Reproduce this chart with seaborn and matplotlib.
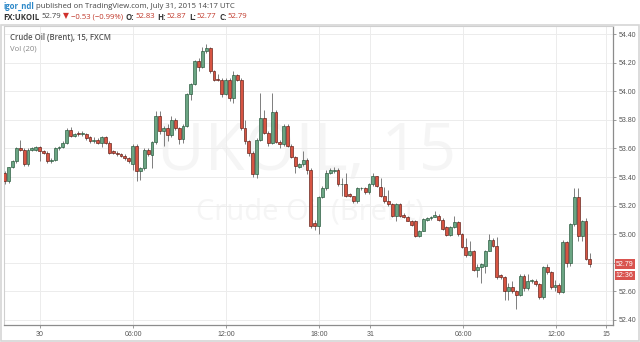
import numpy as np
import pandas as pd
import matplotlib
matplotlib.use("Agg")
import matplotlib.pyplot as plt
import matplotlib.transforms as mtransforms
from matplotlib.patches import Rectangle
import seaborn as sns

# ---------------- data (15-min candles, FX:UKOIL) ----------------
opens = [53.43, 53.37, 53.47, 53.51, 53.60, 53.59, 53.49, 53.59, 53.59, 53.61,
         53.58, 53.57, 53.51, 53.52, 53.60, 53.61, 53.64, 53.73, 53.69, 53.71,
         53.70, 53.70, 53.68, 53.655, 53.66, 53.64, 53.68, 53.64, 53.58, 53.57,
         53.56, 53.55, 53.53, 53.49, 53.62, 53.445, 53.465, 53.59, 53.556, 53.645,
         53.825, 53.72, 53.74, 53.695, 53.80, 53.74, 53.665, 53.757, 53.979, 54.05,
         54.213, 54.17, 54.28, 54.30, 54.14, 54.085, 54.08, 53.98, 54.08, 53.95,
         54.11, 54.08, 53.74, 53.65, 53.57, 53.42, 53.66, 53.815, 53.71, 53.64,
         53.855, 53.648, 53.63, 53.76, 53.62, 53.54, 53.47, 53.49, 53.52, 53.45,
         53.08, 53.06, 53.26, 53.325, 53.43, 53.44, 53.45, 53.35, 53.35, 53.28,
         53.265, 53.23, 53.32, 53.32, 53.295, 53.35, 53.405, 53.333, 53.27, 53.235,
         53.21, 53.13, 53.21, 53.137, 53.123, 53.095, 53.09, 52.99, 53.025, 53.10,
         53.113, 53.123, 53.13, 53.10, 53.05, 52.997, 53.05, 53.083, 53.00, 52.91,
         52.857, 52.885, 52.75, 52.774, 52.775, 52.886, 52.962, 52.92, 52.713, 52.70,
         52.60, 52.634, 52.60, 52.578, 52.71, 52.625, 52.67, 52.676, 52.653, 52.56,
         52.774, 52.735, 52.63, 52.645, 52.595, 52.944, 52.80, 53.07, 53.26, 52.99,
         53.095, 52.83]
highs = [53.44, 53.47, 53.52, 53.61, 53.66, 53.60, 53.60, 53.61, 53.62, 53.62,
         53.59, 53.58, 53.53, 53.61, 53.62, 53.65, 53.74, 53.75, 53.71, 53.72,
         53.72, 53.71, 53.69, 53.68, 53.67, 53.69, 53.69, 53.65, 53.59, 53.58,
         53.57, 53.56, 53.54, 53.63, 53.63, 53.47, 53.60, 53.60, 53.65, 53.86,
         53.86, 53.76, 53.77, 53.83, 53.81, 53.75, 53.77, 53.99, 54.06, 54.22,
         54.23, 54.31, 54.33, 54.31, 54.15, 54.12, 54.09, 54.09, 54.09, 54.14,
         54.12, 54.09, 53.80, 53.66, 53.58, 53.67, 53.99, 53.87, 53.72, 53.99,
         53.87, 53.66, 53.77, 53.77, 53.63, 53.55, 53.50, 53.58, 53.53, 53.46,
         53.10, 53.27, 53.34, 53.45, 53.46, 53.47, 53.46, 53.39, 53.43, 53.29,
         53.27, 53.33, 53.33, 53.33, 53.36, 53.43, 53.41, 53.39, 53.33, 53.31,
         53.22, 53.22, 53.22, 53.15, 53.13, 53.10, 53.10, 53.03, 53.11, 53.12,
         53.13, 53.16, 53.14, 53.11, 53.06, 53.06, 53.13, 53.09, 53.01, 52.97,
         52.95, 52.89, 52.79, 52.80, 52.89, 53.00, 52.97, 52.98, 52.72, 52.71,
         52.66, 52.67, 52.61, 52.72, 52.72, 52.72, 52.69, 52.69, 52.66, 52.78,
         52.79, 52.74, 52.68, 52.66, 52.96, 52.95, 53.08, 53.32, 53.32, 53.10,
         53.11, 52.87]
lows = [53.35, 53.36, 53.46, 53.50, 53.58, 53.48, 53.48, 53.58, 53.58, 53.51,
        53.56, 53.50, 53.50, 53.51, 53.59, 53.60, 53.63, 53.68, 53.68, 53.69,
        53.69, 53.66, 53.64, 53.64, 53.63, 53.61, 53.63, 53.56, 53.56, 53.55,
        53.54, 53.52, 53.50, 53.45, 53.37, 53.38, 53.45, 53.55, 53.46, 53.63,
        53.70, 53.62, 53.65, 53.68, 53.73, 53.63, 53.64, 53.75, 53.94, 54.04,
        54.14, 54.16, 54.27, 54.13, 54.07, 54.07, 53.96, 53.97, 53.93, 53.92,
        54.07, 53.73, 53.63, 53.55, 53.40, 53.39, 53.65, 53.70, 53.62, 53.63,
        53.64, 53.60, 53.62, 53.61, 53.53, 53.43, 53.46, 53.48, 53.42, 53.04,
        53.03, 53.00, 53.25, 53.31, 53.42, 53.43, 53.34, 53.27, 53.26, 53.26,
        53.22, 53.22, 53.31, 53.28, 53.28, 53.34, 53.33, 53.26, 53.22, 53.20,
        53.12, 53.09, 53.12, 53.11, 53.09, 53.06, 52.98, 52.98, 53.02, 53.09,
        53.10, 53.12, 53.09, 53.03, 52.99, 52.99, 53.04, 52.99, 52.90, 52.84,
        52.85, 52.74, 52.70, 52.66, 52.73, 52.88, 52.91, 52.69, 52.69, 52.54,
        52.54, 52.59, 52.48, 52.57, 52.60, 52.61, 52.66, 52.64, 52.545, 52.55,
        52.72, 52.62, 52.60, 52.58, 52.59, 52.77, 52.78, 53.06, 52.95, 52.95,
        52.82, 52.77]
closes = [53.37, 53.47, 53.51, 53.60, 53.59, 53.49, 53.59, 53.60, 53.61, 53.58,
          53.57, 53.51, 53.52, 53.60, 53.61, 53.64, 53.73, 53.69, 53.70, 53.70,
          53.705, 53.67, 53.65, 53.66, 53.64, 53.68, 53.64, 53.57, 53.57, 53.56,
          53.545, 53.53, 53.51, 53.62, 53.445, 53.465, 53.59, 53.56, 53.645, 53.825,
          53.72, 53.74, 53.695, 53.80, 53.74, 53.665, 53.757, 53.979, 54.05, 54.213,
          54.17, 54.28, 54.30, 54.14, 54.08, 54.075, 53.98, 54.08, 53.95, 54.11,
          54.08, 53.74, 53.65, 53.57, 53.42, 53.66, 53.815, 53.71, 53.64, 53.855,
          53.648, 53.63, 53.76, 53.62, 53.54, 53.475, 53.49, 53.52, 53.45, 53.06,
          53.06, 53.26, 53.325, 53.43, 53.447, 53.45, 53.35, 53.35, 53.27, 53.265,
          53.23, 53.32, 53.322, 53.295, 53.35, 53.405, 53.335, 53.27, 53.235, 53.21,
          53.13, 53.21, 53.13, 53.123, 53.095, 53.067, 52.99, 53.025, 53.107, 53.11,
          53.12, 53.135, 53.10, 53.037, 52.997, 53.05, 53.083, 53.00, 52.91, 52.857,
          52.885, 52.75, 52.773, 52.79, 52.886, 52.96, 52.92, 52.70, 52.70, 52.60,
          52.63, 52.60, 52.578, 52.71, 52.625, 52.676, 52.68, 52.653, 52.56, 52.774,
          52.735, 52.63, 52.645, 52.595, 52.944, 52.80, 53.07, 53.26, 52.99, 53.095,
          52.83, 52.79]

x_tick_pos = [9.0, 33.1, 57.1, 81.1, 94.3, 118.3, 142.3, 155.2]
x_tick_labels = ["30", "06:00", "12:00", "18:00", "31", "06:00", "12:00", "15"]
y_ticks = [52.40, 52.60, 52.80, 53.00, 53.20, 53.40, 53.60, 53.80, 54.00, 54.20, 54.40]
countdown = "12:36"

# ---------------- style ----------------
sns.set_theme(style="white")
plt.rcParams["font.family"] = ["Open Sans", "DejaVu Sans"]

UP_FACE, UP_EDGE = "#6ba583", "#225437"
DN_FACE, DN_EDGE = "#d75442", "#5b1a13"
WICK = "#7d7d7d"

df = pd.DataFrame({"open": opens, "high": highs, "low": lows, "close": closes})
df["i"] = np.arange(len(df))
df["up"] = df["close"] >= df["open"]
df["bottom"] = df[["open", "close"]].min(axis=1)
df["height"] = (df["close"] - df["open"]).abs().clip(lower=0.004)

W, H = 640, 342
fig = plt.figure(figsize=(W / 100, H / 100), dpi=100)
fig.patch.set_facecolor("white")
ax = fig.add_axes([4 / W, 17 / H, 608.7 / W, 299 / H])
ax.set_facecolor("white")

# watermark
ax.text(0.497, 0.575, "UKOIL, 15", transform=ax.transAxes, ha="center", va="center",
        fontsize=47, color="#f5f5f5", zorder=0, family=["Open Sans", "DejaVu Sans"])
ax.text(0.503, 0.378, "Crude Oil (Brent)", transform=ax.transAxes, ha="center", va="center",
        fontsize=21, color="#f5f5f5", zorder=0, family=["Open Sans", "DejaVu Sans"])

# wicks
ax.vlines(df["i"], df["low"], df["high"], color=WICK, lw=0.7, zorder=2)
# bodies
for up, face, edge in [(True, UP_FACE, UP_EDGE), (False, DN_FACE, DN_EDGE)]:
    sub = df[df["up"] == up]
    ax.bar(sub["i"], sub["height"], bottom=sub["bottom"], width=0.74,
           color=face, edgecolor=edge, linewidth=0.45, zorder=3)

ax.set_xlim(-0.2, 156.9)
ax.set_ylim(52.365, 54.456)

ax.set_yticks(y_ticks)
ax.set_yticklabels([f"{v:.2f}" for v in y_ticks])
ax.yaxis.tick_right()
ax.set_xticks(x_tick_pos)
ax.set_xticklabels(x_tick_labels)
ax.tick_params(axis="both", which="major", direction="out", length=2.5, width=0.6,
               color="#8c8c8c", labelsize=5, labelcolor="#555555", pad=2)
ax.tick_params(axis="y", right=True, left=False)
ax.tick_params(axis="x", bottom=True)
for lab in ax.get_xticklabels() + ax.get_yticklabels():
    lab.set_family(["Liberation Sans", "DejaVu Sans"])
# the tick label hidden under the last-price marker (as in the reference)
for v, lab in zip(y_ticks, ax.get_yticklabels()):
    if abs(v - closes[-1]) < 0.05:
        lab.set_visible(False)
ax.grid(True, color="#ececec", lw=0.7, zorder=0)
ax.set_axisbelow(True)

for side in ["left", "top"]:
    ax.spines[side].set_color("#cfcfcf")
    ax.spines[side].set_linewidth(0.8)
for side in ["right", "bottom"]:
    ax.spines[side].set_color("#8c8c8c")
    ax.spines[side].set_linewidth(0.9)

# legend text in pane
ax.text(6 / 608.7, 1 - 11 / 299, "Crude Oil (Brent), 15, FXCM", transform=ax.transAxes,
        ha="left", va="center", fontsize=5.6, color="#555555", fontweight="semibold")
ax.text(6 / 608.7, 1 - 23 / 299, "Vol (20)", transform=ax.transAxes,
        ha="left", va="center", fontsize=5.6, color="#888888")

# last price label and countdown
box = dict(boxstyle="square,pad=0.18", fc="#d9534f", ec="none")
ax.annotate(f"{closes[-1]:.2f}", xy=(1.0, closes[-1]), xycoords=("axes fraction", "data"),
            xytext=(2.2, 0), textcoords="offset points", ha="left", va="center",
            fontsize=5, color="white", family=["Liberation Sans", "DejaVu Sans"],
            bbox=box, zorder=6, annotation_clip=False)
ax.annotate(countdown, xy=(1.0, closes[-1]), xycoords=("axes fraction", "data"),
            xytext=(2.2, -8.2), textcoords="offset points", ha="left", va="center",
            fontsize=5, color="white", family=["Liberation Sans", "DejaVu Sans"],
            bbox=box, zorder=6, annotation_clip=False)

# ---------------- header ----------------
ident = mtransforms.IdentityTransform()
renderer = fig.canvas.get_renderer()


def run(x, ytop, pieces, size=5.6):
    for text, color, weight, gap in pieces:
        t = fig.text(x, H - ytop, text, transform=ident, ha="left", va="center",
                     fontsize=size, color=color, fontweight=weight,
                     family=["Open Sans", "DejaVu Sans"])
        bb = t.get_window_extent(renderer=renderer)
        x += bb.width + gap


run(3, 6.5, [("igor_ndl", "#2a87c8", "bold", 2.5),
             ("published on TradingView.com, July 31, 2015 14:17 UTC", "#444444", "normal", 0)])
RED = "#c0392b"
run(3, 17, [("FX:UKOIL", "#333333", "bold", 2.5),
            ("52.79", "#444444", "normal", 2),
            ("\u25bc", "#d0312d", "normal", 1.5),
            ("\u22120.53 (\u22120.99%)", RED, "normal", 3),
            ("O:", "#333333", "bold", 0.5), ("52.83", RED, "normal", 3),
            ("H:", "#333333", "bold", 0.5), ("52.87", RED, "normal", 3),
            ("L:", "#333333", "bold", 0.5), ("52.77", RED, "normal", 3),
            ("C:", "#333333", "bold", 0.5), ("52.79", RED, "normal", 0)])

# outer frame
fig.patches.append(Rectangle((1, 1), W - 2, H - 2 - 24, transform=ident, fill=False,
                             ec="#d6d6d6", lw=1.2, zorder=0))

fig.savefig("out.png", dpi=100, facecolor="white")
